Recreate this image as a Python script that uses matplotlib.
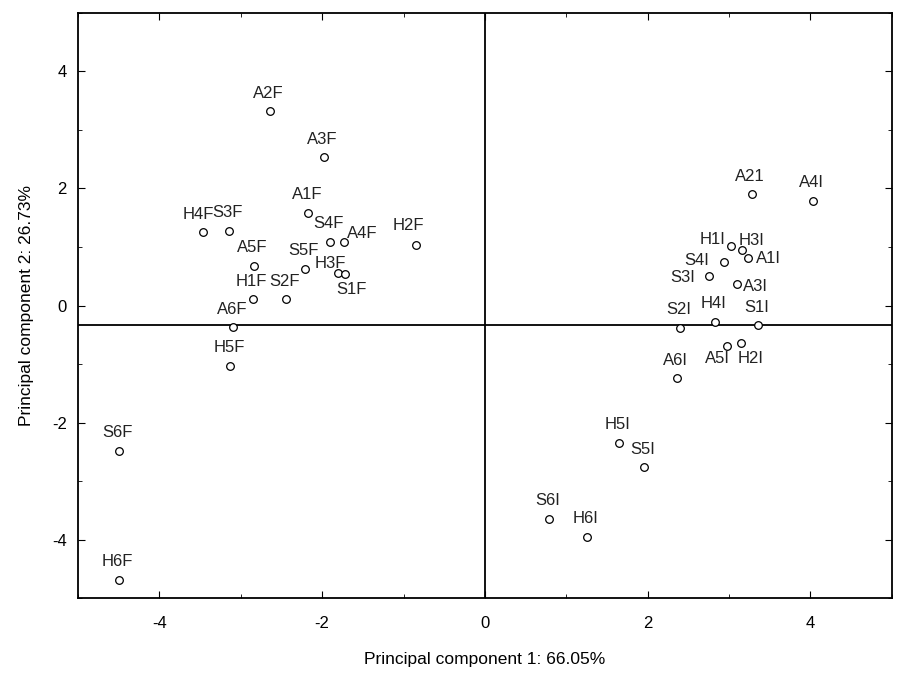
import numpy as np
import matplotlib.pyplot as plt
from matplotlib.ticker import MultipleLocator

plt.rcParams['font.family'] = ['Liberation Sans', 'DejaVu Sans']
plt.rcParams['axes.unicode_minus'] = False

# Puntuaciones de las muestras en las dos primeras componentes
labels = ["A2F", "A3F", "A1F", "H4F", "S3F", "S4F", "A4F", "H2F", "A5F", "S5F",
          "H3F", "S1F", "H1F", "S2F", "A6F", "H5F", "S6F", "H6F",
          "A21", "A4I", "H1I", "H3I", "A1I", "S4I", "S3I", "A3I", "H4I", "S2I",
          "S1I", "A5I", "H2I", "A6I", "H5I", "S5I", "S6I", "H6I"]
pc1 = [-2.64, -1.98, -2.17, -3.47, -3.15, -1.90, -1.73, -0.85, -2.84, -2.21,
       -1.81, -1.72, -2.85, -2.44, -3.09, -3.13, -4.50, -4.50,
       3.28, 4.03, 3.02, 3.16, 3.23, 2.94, 2.76, 3.10, 2.83, 2.40,
       3.36, 2.98, 3.15, 2.36, 1.65, 1.96, 0.79, 1.25]
pc2 = [3.32, 2.53, 1.58, 1.25, 1.28, 1.09, 1.08, 1.04, 0.68, 0.63,
       0.55, 0.54, 0.11, 0.11, -0.37, -1.03, -2.48, -4.68,
       1.90, 1.79, 1.01, 0.95, 0.81, 0.75, 0.50, 0.37, -0.28, -0.38,
       -0.34, -0.69, -0.64, -1.24, -2.34, -2.76, -3.64, -3.95]
ref_y = -0.33  # línea horizontal de referencia

# Desplazamiento de cada etiqueta (en puntos) respecto a su marcador
offsets = {"H4F": (-3, 13), "A4F": (13, 6), "H2F": (-5, 14), "H3F": (-5, 7),
           "S1F": (5, -11), "H1I": (-13, 5), "H3I": (7, 7), "A1I": (15, 0),
           "S4I": (-20, 1), "S3I": (-19, -1), "A3I": (13, -2),
           "A5I": (-7, -9), "H2I": (7, -11)}

fig = plt.figure(figsize=(9.08, 6.73), dpi=100)
ax = fig.add_axes([0.086, 0.111, 0.896, 0.870])

ax.plot(pc1, pc2, 'o', mfc='white', mec='black', ms=5.5, mew=0.9, zorder=3)
for lab, x, y in zip(labels, pc1, pc2):
    dx, dy = offsets.get(lab, (-1, 13))
    ax.annotate(lab, (x, y), xytext=(dx, dy), textcoords='offset points',
                ha='center', va='center', fontsize=12, color='#222222')

ax.axhline(ref_y, color='black', lw=1.3, zorder=1)
ax.axvline(0, color='black', lw=1.3, zorder=1)

ax.set_xlim(-5, 5)
ax.set_ylim(-5, 5)
ax.xaxis.set_major_locator(MultipleLocator(2))
ax.xaxis.set_minor_locator(MultipleLocator(1))
ax.yaxis.set_major_locator(MultipleLocator(2))
ax.yaxis.set_minor_locator(MultipleLocator(1))
ax.tick_params(which='both', direction='in', top=True, right=True,
               labelsize=12)
ax.tick_params(axis='x', pad=13)
ax.tick_params(axis='y', pad=8)
ax.tick_params(which='major', length=5)
ax.tick_params(which='minor', length=3)
for s in ax.spines.values():
    s.set_linewidth(1.3)

ax.set_xlabel("Principal component 1: 66.05%", fontsize=12.5, labelpad=15)
ax.set_ylabel("Principal component 2: 26.73%", fontsize=12.5, labelpad=13)

fig.savefig("out.png", dpi=100)
